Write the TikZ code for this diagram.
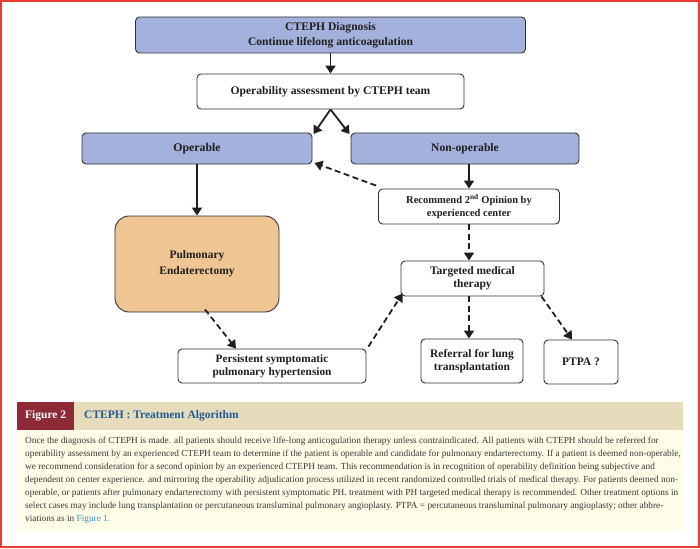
\documentclass[tikz,border=0pt]{standalone}
\usepackage{fontspec}
\setmainfont{Liberation Serif}
\usetikzlibrary{arrows.meta}
\definecolor{boxblue}{HTML}{A3B1DC}
\definecolor{peach}{HTML}{EFC594}
\definecolor{edge}{HTML}{333333}
\definecolor{capred}{HTML}{8E2A36}
\definecolor{captan}{HTML}{E6DCBC}
\definecolor{capbody}{HTML}{FEFDE8}
\definecolor{capblue}{HTML}{1F5B96}
\definecolor{linkblue}{HTML}{3A90C6}
\definecolor{frame}{HTML}{EE3B33}
\begin{document}
\begin{tikzpicture}[x=1pt,y=-1pt,
  box/.style={draw=edge,line width=0.9pt,rounded corners=4pt,align=center,
    font=\bfseries\fontsize{11}{13}\selectfont,text=black!88,inner sep=0pt},
  bluebox/.style={box,fill=boxblue},
  arr/.style={line width=1.8pt,draw=black!88,-{Triangle[length=8pt,width=10pt]}},
  darr/.style={arr,dash pattern=on 6pt off 3.5pt},
  capline/.style={anchor=base west,inner sep=0pt,font=\fontsize{9.3}{13}\selectfont,text=black!78}
]
\useasboundingbox (0,0) rectangle (700,548);
\draw[frame,line width=2pt] (1,1) rectangle (699,547);

% boxes
\node[bluebox,minimum width=390pt,minimum height=36pt,font=\bfseries\fontsize{11.6}{15}\selectfont] (diag) at (330.5,35) {CTEPH Diagnosis\\Continue lifelong anticoagulation};
\node[box,minimum width=267pt,minimum height=35pt,font=\bfseries\fontsize{11.6}{13}\selectfont] (op) at (330.5,91.5) {Operability assessment by CTEPH team};
\node[bluebox,minimum width=230pt,minimum height=31pt,font=\bfseries\fontsize{11.8}{13}\selectfont] (operable) at (197,148.5) {Operable};
\node[bluebox,minimum width=228pt,minimum height=31pt,font=\bfseries\fontsize{11.6}{13}\selectfont] (nonop) at (465,148.5) {Non-operable};
\node[box,fill=peach,rounded corners=14pt,minimum width=164pt,minimum height=96pt,font=\bfseries\fontsize{11.5}{16}\selectfont] (pe) at (197,264) {Pulmonary\\Endaterectomy};
\node[box,minimum width=181pt,minimum height=35pt,font=\bfseries\fontsize{10.5}{12.5}\selectfont] (rec) at (469,206.5) {Recommend 2\textsuperscript{nd} Opinion by\\experienced center};
\node[box,minimum width=143pt,minimum height=35pt,font=\bfseries\fontsize{11.5}{13}\selectfont] (tmt) at (472.5,278.5) {Targeted medical\\therapy};
\node[box,minimum width=188pt,minimum height=34pt,font=\bfseries\fontsize{11.3}{13}\selectfont] (pers) at (272,366) {Persistent symptomatic\\pulmonary hypertension};
\node[box,minimum width=102pt,minimum height=44pt,font=\bfseries\fontsize{11.5}{13}\selectfont] (ref) at (472,361) {Referral for lung\\transplantation};
\node[box,minimum width=74pt,minimum height=44pt,font=\bfseries\fontsize{11.5}{13}\selectfont] (ptpa) at (581,362) {PTPA ?};

% connectors
\draw[arr] (diag.south) -- (op.north);
\draw[arr] (op.south) -- ([shift={(1pt,-1.5pt)}]operable.north east);
\draw[arr] (op.south) -- ([shift={(-1pt,-1.5pt)}]nonop.north west);
\draw[arr] (operable.south) -- (pe.north);
\draw[arr] (rec.north |- nonop.south) -- (rec.north);
\draw[darr] ([shift={(-2pt,3pt)}]rec.north west) -- ([shift={(2pt,1.5pt)}]operable.south east);
\draw[darr] (rec.south) -- (rec.south |- tmt.north);
\draw[darr] ([shift={(8pt,3pt)}]pe.south) -- ([xshift=-36pt]pers.north);
\draw[darr] ([shift={(2pt,2pt)}]pers.north east) -- ([shift={(2pt,3pt)}]tmt.south west);
\draw[darr] (rec.south |- tmt.south) -- (rec.south |- ref.north);
\draw[darr] ([shift={(-3pt,0pt)}]tmt.south east) -- ([xshift=-9pt]ptpa.north);

% caption
\fill[capbody] (17.3,430) rectangle (682.7,531);
\fill[captan] (17.3,402.3) rectangle (682.7,430);
\node[fill=capred,minimum width=56.7pt,minimum height=27.7pt,inner sep=0pt,text=white,font=\bfseries\fontsize{11.5}{13}\selectfont] (fig) at (45.65,416.15) {Figure 2};
\node[anchor=west,inner sep=0pt,text=capblue,font=\bfseries\fontsize{11.5}{13}\selectfont] (captitle) at (84,416.15) {CTEPH : Treatment Algorithm};
\node[capline] (l1) at (25,443) {Once the diagnosis of CTEPH is made. all patients should receive life-long anticogulation therapy unless contraindicated. All patients with CTEPH should be referred for};
\node[capline] (l2) at (25,456) {operability assessment by an experienced CTEPH team to determine if the patient is operable and candidate for pulmonary endarterectomy. If a patient is deemed non-operable,};
\node[capline] (l3) at (25,469) {we recommend consideration for a second opinion by an experienced CTEPH team. This recommendation is in recognition of operability definition being subjective and};
\node[capline] (l4) at (25,482) {dependent on center experience. and mirroring the operability adjudication process utilized in recent randomized controlled trials of medical therapy. For patients deemed non-};
\node[capline] (l5) at (25,495) {operable, or patients after pulmonary endarterectomy with persistent symptomatic PH. treatment with PH targeted medical therapy is recommended. Other treatment options in};
\node[capline] (l6) at (25,508) {select cases may include lung transplantation or percutaneous transluminal pulmonary angioplasty. PTPA = percutaneous transluminal pulmonary angioplasty; other abbre-};
\node[capline] (l7) at (25,521) {viations as in \textcolor{linkblue}{Figure 1.}};
\end{tikzpicture}
\end{document}
